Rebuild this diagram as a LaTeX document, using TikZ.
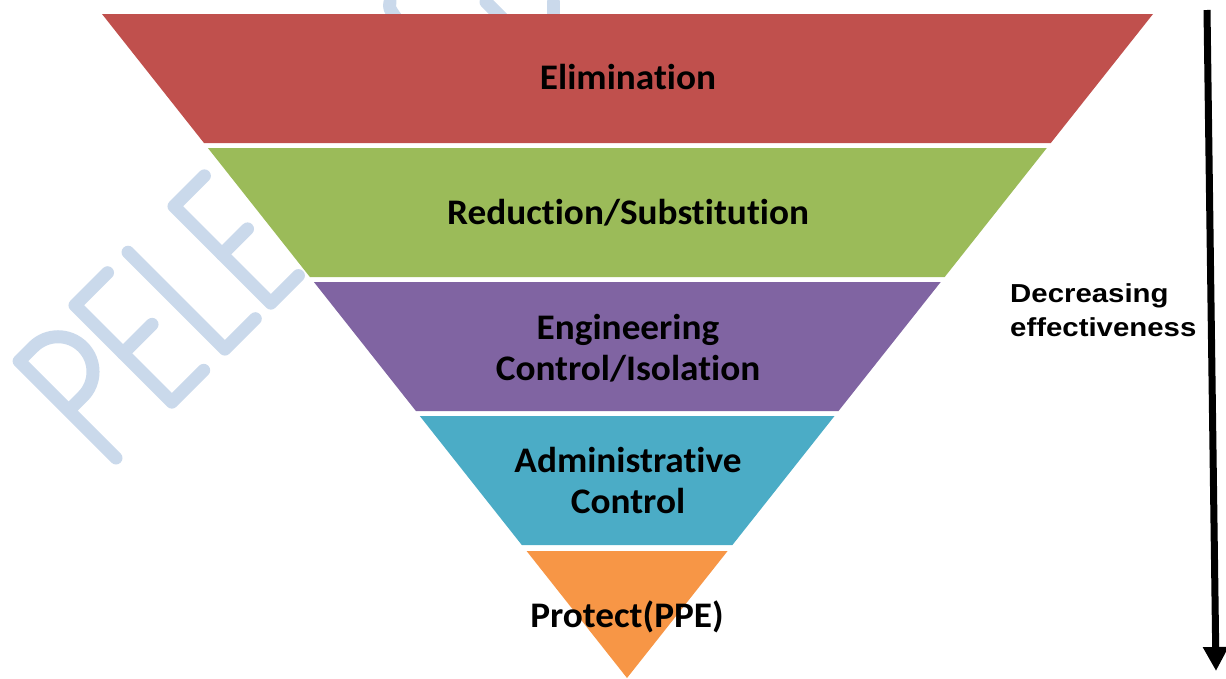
\documentclass[tikz,border=0pt]{standalone}
\usepackage{fontspec}
\newfontfamily\bandfont{Carlito}[Ligatures={NoCommon,NoRare,NoContextual}, FakeStretch=1.035]
\newfontfamily\sidefont{Liberation Sans}[FakeStretch=1.13]
\usetikzlibrary{arrows.meta}

\definecolor{elimred}{RGB}{192,80,77}
\definecolor{substgreen}{RGB}{155,187,89}
\definecolor{engpurple}{RGB}{128,100,162}
\definecolor{adminteal}{RGB}{75,172,198}
\definecolor{ppeorange}{RGB}{247,150,70}
\definecolor{markblue}{RGB}{202,217,235}

\tikzset{
  band/.style={fill=#1, draw=none},
  bandlabel/.style={font=\bandfont\bfseries\fontsize{36}{41}\selectfont, text=black, align=center, inner sep=0pt},
  sidelabel/.style={font=\sidefont\bfseries\fontsize{26}{34}\selectfont, text=black, align=left, inner sep=0pt},
  markstroke/.style={draw=markblue, line width=13pt, line cap=round, line join=round},
}

\begin{document}
\begin{tikzpicture}[x=1pt,y=1pt]
\useasboundingbox (0,0) rectangle (1226,-678);

% faint lettering in the background
\begin{scope}[shift={(116,-458)}, rotate=45]
  \draw[markstroke] (0,0) -- (0,137) -- (20,137) arc[start angle=90, end angle=-90, radius=35] -- (0,67);
  \draw[markstroke] (125,137) -- (79,137) -- (79,0) -- (124,0);
  \draw[markstroke] (79,69) -- (120,69);
  \draw[markstroke] (154,137) -- (154,0) -- (197,0);
  \draw[markstroke] (262,137) -- (219,137) -- (219,0) -- (258,0);
  \draw[markstroke] (219,69) -- (255,69);
\end{scope}
\draw[markstroke] (390,-2) .. controls (389,-8) .. (396,-18);
\draw[markstroke] (486,-2) -- (502,-18);
\draw[markstroke] (553,-2) -- (553,-18);

% the inverted pyramid, five bands
\fill[band=elimred]    (102,-14)   -- (1153,-14)   -- (1050.8,-143) -- (204.0,-143) -- cycle;
\fill[band=substgreen] (207.9,-148) -- (1046.8,-148) -- (944.7,-277) -- (309.9,-277) -- cycle;
\fill[band=engpurple]  (313.9,-282) -- (940.7,-282) -- (838.5,-411) -- (415.9,-411) -- cycle;
\fill[band=adminteal]  (419.8,-416) -- (834.5,-416) -- (732.4,-545) -- (521.8,-545) -- cycle;
\fill[band=ppeorange]  (526.6,-551) -- (727.6,-551) -- (627,-678) -- cycle;

% band labels
\node[bandlabel, anchor=base] (elim)  at (628,-89)  {Elimination};
\node[bandlabel, anchor=base] (subst) at (628,-224) {Reduction/Substitution};
\node[bandlabel] (eng)   at (628,-348) {Engineering\\Control/Isolation};
\node[bandlabel] (admin) at (628,-480) {Administrative\\Control};
\node[bandlabel, anchor=base] (ppe)   at (627,-627) {Protect(PPE)};

% effectiveness arrow
\node[sidelabel, anchor=west] (effect) at (1010,-310) {Decreasing\\effectiveness};
\coordinate (arrtop) at (1207,-10);
\coordinate (arrtip) at (1216,-671);
\draw[line width=7pt, -{Triangle[width=24pt,length=24pt]}] (arrtop) -- (arrtip);
\end{tikzpicture}
\end{document}
